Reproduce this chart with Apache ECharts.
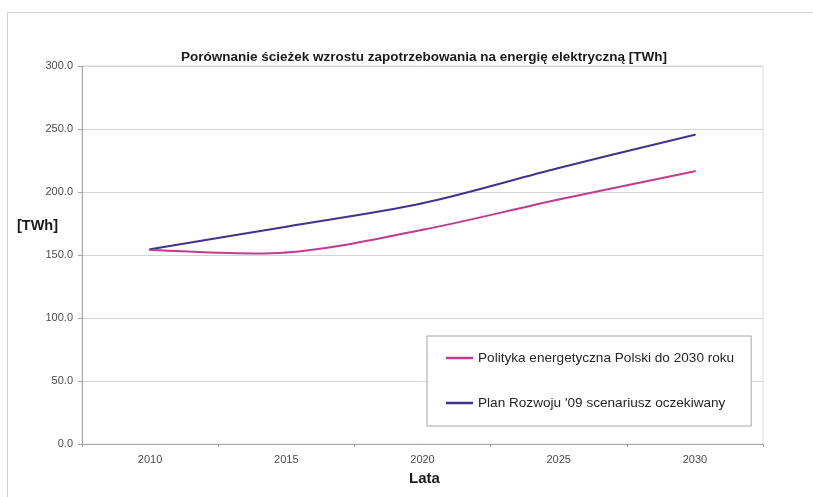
<!DOCTYPE html>
<html>
<head>
<meta charset="utf-8">
<script src="https://cdn.jsdelivr.net/npm/echarts@6/dist/echarts.min.js"></script>
<style>
  html, body { margin: 0; padding: 0; background: #ffffff; }
  #chart { width: 813px; height: 497px; }
</style>
</head>
<body>
<div id="chart"></div>
<script>
// Demand growth paths, TWh
const years = ['2010', '2015', '2020', '2025', '2030'];
const politykaPEP2030 = [154.0, 152.0, 170.0, 194.0, 216.5];
const planRozwoju09 = [154.5, 172.5, 191.0, 219.0, 245.5];
const yTicks = { min: 0, max: 300, interval: 50 };

const PINK = '#c23b8f';
const BLUE = '#43318c';
const font = '"Liberation Sans", Arial, sans-serif';

// Smoothed line (Catmull-Rom style Bézier, without control-point clamping),
// drawn segment by segment through the axis coordinate system.
function smoothLineSeries(name, values, color, z) {
  return {
    name: name,
    type: 'custom',
    coordinateSystem: 'cartesian2d',
    data: values.map((v, i) => [i, v]),
    encode: { x: 0, y: 1 },
    itemStyle: { color: color },
    z: z,
    renderItem: function (params, api) {
      const i = params.dataIndex;
      const n = values.length;
      if (i >= n - 1) return null;
      const p = k => api.coord([Math.max(0, Math.min(n - 1, k)), values[Math.max(0, Math.min(n - 1, k))]]);
      const p0 = p(i - 1), p1 = p(i), p2 = p(i + 1), p3 = p(i + 2);
      const t = 1 / 6;
      const c1 = [p1[0] + (p2[0] - p0[0]) * t, p1[1] + (p2[1] - p0[1]) * t];
      const c2 = [p2[0] - (p3[0] - p1[0]) * t, p2[1] - (p3[1] - p1[1]) * t];
      return {
        type: 'bezierCurve',
        shape: {
          x1: p1[0], y1: p1[1],
          cpx1: c1[0], cpy1: c1[1],
          cpx2: c2[0], cpy2: c2[1],
          x2: p2[0], y2: p2[1]
        },
        style: { stroke: color, fill: null, lineWidth: 2, lineCap: 'round' }
      };
    }
  };
}

const chart = echarts.init(document.getElementById('chart'), null, { renderer: 'canvas' });

chart.setOption({
  animation: false,
  backgroundColor: '#ffffff',
  textStyle: { fontFamily: font },
  title: {
    text: 'Porównanie ścieżek wzrostu zapotrzebowania na energię elektryczną [TWh]',
    left: 419,
    textAlign: 'center',
    top: 45,
    textStyle: { fontSize: 13.5, fontWeight: 'bold', color: '#1a1a1a', fontFamily: font }
  },
  grid: {
    left: 82, right: 50, top: 66, bottom: 53,
    show: true, borderColor: '#dcdcdc', borderWidth: 1, backgroundColor: 'transparent'
  },
  legend: {
    orient: 'vertical',
    left: 427,
    top: 336,
    padding: [15, 17, 16, 19],
    itemGap: 31,
    itemWidth: 27,
    itemHeight: 14,
    icon: 'path://M0,6 L27,6 L27,8.5 L0,8.5 Z',
    backgroundColor: '#ffffff',
    borderColor: '#a6a6a6',
    borderWidth: 1,
    textStyle: { fontSize: 13.6, color: '#262626', fontFamily: font },
    data: [
      { name: 'Polityka energetyczna Polski do 2030 roku', itemStyle: { color: PINK } },
      { name: "Plan Rozwoju '09 scenariusz oczekiwany", itemStyle: { color: BLUE } }
    ]
  },
  xAxis: {
    type: 'category',
    data: years,
    boundaryGap: true,
    axisLine: { lineStyle: { color: '#a6a6a6', width: 1 } },
    axisTick: { show: true, length: 3, lineStyle: { color: '#a6a6a6' } },
    axisLabel: { fontSize: 11, color: '#4d4d4d', margin: 10, fontFamily: font },
    splitLine: { show: false }
  },
  yAxis: {
    type: 'value',
    min: yTicks.min,
    max: yTicks.max,
    interval: yTicks.interval,
    axisLine: { show: true, lineStyle: { color: '#a6a6a6', width: 1 } },
    axisTick: { show: true, length: 4, inside: false, lineStyle: { color: '#a6a6a6' } },
    axisLabel: {
      fontSize: 11, color: '#4d4d4d', margin: 9, fontFamily: font,
      formatter: v => v.toFixed(1)
    },
    splitLine: { show: true, lineStyle: { color: '#d4d4d4', width: 1 } }
  },
  graphic: [
    {
      type: 'rect',
      shape: { x: 7.5, y: 12.5, width: 820, height: 500 },
      style: { fill: 'none', stroke: '#cfcfcf', lineWidth: 1 },
      z: -10
    },
    {
      type: 'text',
      left: 17,
      top: 218,
      style: { text: '[TWh]', font: 'bold 14.5px ' + font, fill: '#1a1a1a' }
    },
    {
      type: 'text',
      left: 409,
      top: 471,
      style: { text: 'Lata', font: 'bold 15px ' + font, fill: '#1a1a1a' }
    }
  ],
  series: [
    smoothLineSeries('Polityka energetyczna Polski do 2030 roku', politykaPEP2030, PINK, 3),
    smoothLineSeries("Plan Rozwoju '09 scenariusz oczekiwany", planRozwoju09, BLUE, 2)
  ]
});
</script>
</body>
</html>
